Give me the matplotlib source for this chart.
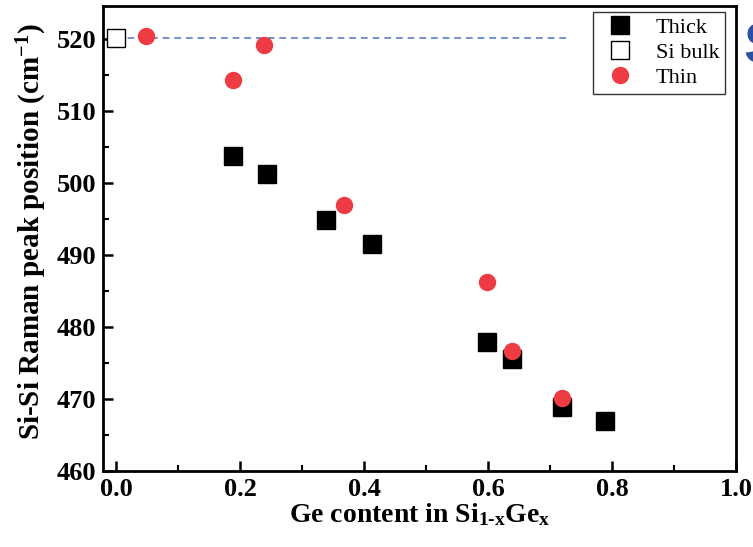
import matplotlib
matplotlib.use("Agg")
import matplotlib.pyplot as plt

# 데이터
thick_x = [0.188, 0.243, 0.338, 0.413, 0.598, 0.639, 0.719, 0.789]
thick_y = [503.7, 501.2, 494.9, 491.6, 477.9, 475.6, 468.9, 466.9]
bulk_x = [0.0]
bulk_y = [520.2]
thin_x = [0.048, 0.189, 0.238, 0.368, 0.599, 0.639, 0.719]
thin_y = [520.5, 514.3, 519.2, 496.9, 486.3, 476.6, 470.2]
ref_line_x = [0.0, 0.73]
ref_line_y = [520.2, 520.2]

x_ticks = [0.0, 0.2, 0.4, 0.6, 0.8, 1.0]
y_ticks = [460, 470, 480, 490, 500, 510, 520]

plt.rcParams["font.family"] = ["Liberation Serif", "DejaVu Serif"]
plt.rcParams["mathtext.fontset"] = "custom"
plt.rcParams["mathtext.rm"] = "Liberation Serif:bold"
plt.rcParams["mathtext.it"] = "Liberation Serif:bold"
plt.rcParams["mathtext.bf"] = "Liberation Serif:bold"

fig = plt.figure(figsize=(7.53, 5.47), dpi=100)
ax = fig.add_axes([0.1368, 0.139, 0.8406, 0.850])

# 기준선 (Si bulk)
ax.plot(ref_line_x, ref_line_y, linestyle=(0, (4, 3)), color="#5b7fc4", lw=1.2, zorder=1)

ax.plot(thick_x, thick_y, "s", color="black", markersize=12.5, label="Thick", zorder=3)
ax.plot(bulk_x, bulk_y, "s", markerfacecolor="white", markeredgecolor="black",
        markeredgewidth=1.0, markersize=12.5, label="Si bulk", zorder=3, clip_on=False)
ax.plot(thin_x, thin_y, "o", color="#ef3b42", markersize=11.5, label="Thin", zorder=4)

ax.set_xlim(-0.021, 1.0)
ax.set_ylim(460, 524.6)
ax.set_xticks(x_ticks)
ax.set_yticks(y_ticks)
ax.set_xticks([0.1, 0.3, 0.5, 0.7, 0.9], minor=True)
ax.set_yticks([465, 475, 485, 495, 505, 515], minor=True)
ax.set_xticklabels([f"{v:.1f}" for v in x_ticks])

for s in ax.spines.values():
    s.set_linewidth(2.0)
ax.tick_params(which="major", direction="in", length=7, width=1.8,
               labelsize=19, pad=5)
ax.tick_params(which="minor", direction="in", length=4, width=1.5)
for lbl in ax.get_xticklabels() + ax.get_yticklabels():
    lbl.set_fontweight("bold")

ax.set_xlabel(r"Ge content in Si$_{1\text{-}x}$Ge$_x$", fontsize=20,
              fontweight="bold", labelpad=0)
ax.set_ylabel(r"Si-Si Raman peak position (cm$^{-1}$)", fontsize=21,
              fontweight="bold")
ax.yaxis.set_label_coords(-0.085, 0.514)

leg = ax.legend(loc="upper right", fontsize=16, frameon=True, fancybox=False,
                edgecolor="black", handletextpad=0.6, borderpad=0.25,
                labelspacing=0.2, borderaxespad=0.2,
                bbox_to_anchor=(0.99, 0.997))
leg.get_frame().set_linewidth(1.0)

# 오른쪽 잘린 글자
fig.text(743 / 753, 1 - 49 / 547, "S", fontsize=42, fontweight="bold",
         color="#2a4fa3", family="Liberation Sans", va="center", ha="left")

fig.savefig("out.png", dpi=100)
